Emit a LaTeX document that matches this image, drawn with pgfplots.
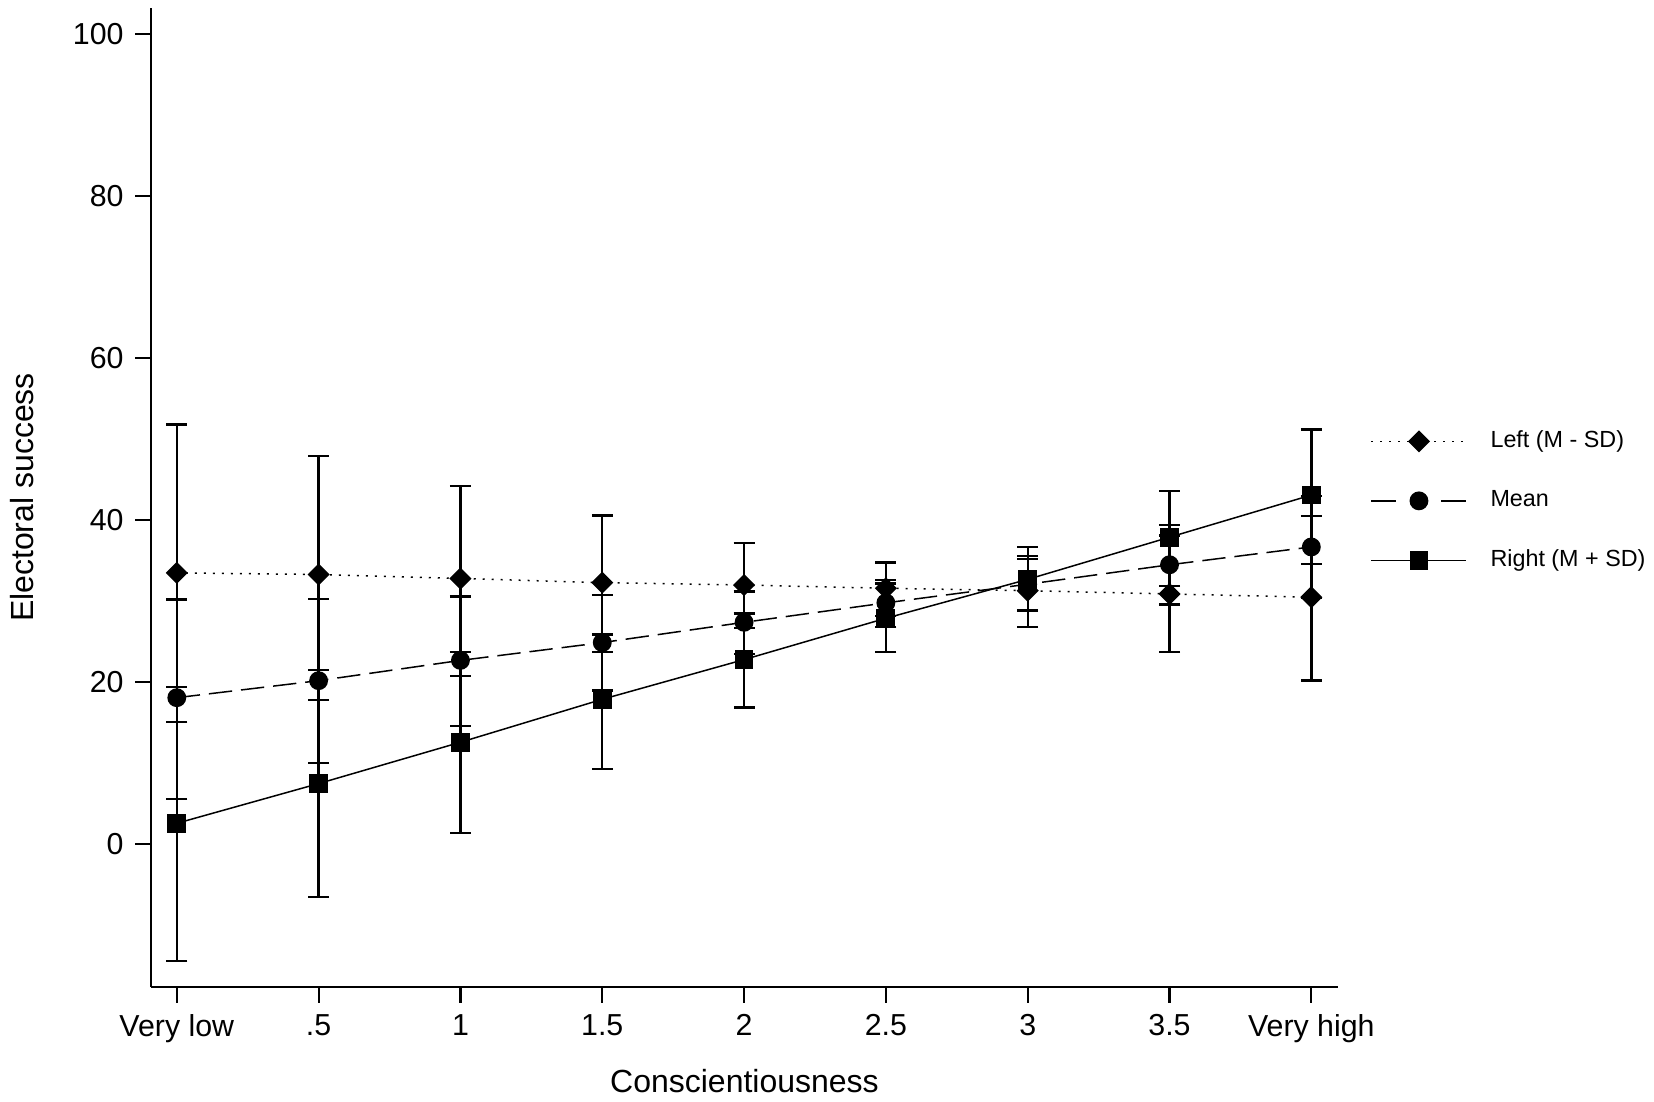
\documentclass[border=0pt]{standalone}
\usepackage{fontspec}
\setmainfont{Liberation Sans}
\usepackage{pgfplots}
\pgfplotsset{compat=1.18}
\usepackage{pgfplotstable}

\pgfplotsset{
  mylegline/.style={legend image code/.code={\draw[mark repeat=2, mark phase=2, ##1] plot coordinates {(0pt,0pt) (14.25pt,0pt) (28.5pt,0pt)};}},
  mylegdash/.style={legend image code/.code={\draw[mark repeat=2, mark phase=2, ##1, dash pattern=on 7.5pt off 13.5pt] plot coordinates {(0pt,0pt) (14.25pt,0pt) (28.5pt,0pt)};}},
}

\pgfplotstableread{
x y lo hi
0 33.5 15.1 51.8
0.5 33.3 17.8 47.9
1 32.8 20.8 44.2
1.5 32.3 23.7 40.6
2 32.0 26.7 37.2
2.5 31.6 28.2 34.8
3 31.3 26.8 35.6
3.5 30.9 23.7 38.1
4 30.5 20.2 40.5
}\leftdata

\pgfplotstableread{
x y lo hi
0 18.1 5.6 30.2
0.5 20.2 10.0 30.3
1 22.7 14.6 30.6
1.5 24.9 19.0 30.8
2 27.4 23.5 31.2
2.5 29.8 26.8 32.6
3 32.1 28.9 35.2
3.5 34.5 29.6 39.4
4 36.7 30.4 43.0
}\meandata

\pgfplotstableread{
x y lo hi
0 2.6 -14.4 19.4
0.5 7.5 -6.5 21.5
1 12.6 1.4 23.7
1.5 17.9 9.3 25.9
2 22.8 16.9 28.5
2.5 27.9 23.7 32.2
3 32.7 28.8 36.7
3.5 37.9 31.9 43.6
4 43.1 34.6 51.2
}\rightdata

\begin{document}
\begin{tikzpicture}
\useasboundingbox (-45.3pt,-34.2pt) rectangle (450.9pt,296.1pt);
\begin{axis}[
  at={(0pt,0pt)}, anchor=south west,
  scale only axis, width=356.1pt, height=293.7pt,
  xmin=-0.091, xmax=4.094, ymin=-17.6, ymax=103.2,
  axis x line=bottom, axis y line=left,
  axis line style={-, line width=0.8pt},
  tick align=outside,
  major tick length=4.7pt,
  tick style={line width=0.65pt, black},
  xtick={0,0.5,1,1.5,2,2.5,3,3.5,4},
  xticklabels={Very low,.5,1,1.5,2,2.5,3,3.5,Very high},
  ytick={0,20,40,60,80,100},
  minor tick num=0,
  /pgf/number format/assume math mode=true,
  tick label style={font=\fontsize{9.1}{11}\selectfont},
  xlabel={Conscientiousness}, ylabel={Electoral success},
  every axis x label/.style={at={(axis description cs:0.5,-0.096)}, anchor=center, font=\fontsize{9.6}{11}\selectfont},
  every axis y label/.style={at={(axis description cs:-0.1087,0.5)}, anchor=center, rotate=90, font=\fontsize{9.6}{11}\selectfont},
  legend cell align=left,
  legend style={draw=none, fill=none, inner sep=0pt, at={(axis description cs:1.027,0.576)}, anchor=north west,
    font=\fontsize{7}{8}\selectfont, row sep=7.4pt, column sep=5pt},
  clip=false,
]
\addplot[black, line width=0.45pt, dash pattern=on 0.6pt off 2.1pt,
  mark=square*, mark size=2.12pt, mark options={rotate=45, solid, fill=black},
  mylegline,
  error bars/.cd, y dir=both, y explicit,
  error bar style={line width=0.7pt, solid},
  error mark options={rotate=90, line width=0.7pt, mark size=3.15pt, solid}]
  table[x=x, y=y, y error plus expr=\thisrow{hi}-\thisrow{y}, y error minus expr=\thisrow{y}-\thisrow{lo}] {\leftdata};
\addlegendentry{Left (M - SD)}
\addplot[black, line width=0.45pt, dash pattern=on 7pt off 2.7pt,
  mark=*, mark size=2.6pt, mark options={solid, fill=black},
  mylegdash,
  error bars/.cd, y dir=both, y explicit,
  error bar style={line width=0.7pt, solid},
  error mark options={rotate=90, line width=0.7pt, mark size=3.15pt, solid}]
  table[x=x, y=y, y error plus expr=\thisrow{hi}-\thisrow{y}, y error minus expr=\thisrow{y}-\thisrow{lo}] {\meandata};
\addlegendentry{Mean}
\addplot[black, line width=0.45pt, solid,
  mark=square*, mark size=2.6pt, mark options={solid, fill=black},
  mylegline,
  error bars/.cd, y dir=both, y explicit,
  error bar style={line width=0.7pt, solid},
  error mark options={rotate=90, line width=0.7pt, mark size=3.15pt, solid}]
  table[x=x, y=y, y error plus expr=\thisrow{hi}-\thisrow{y}, y error minus expr=\thisrow{y}-\thisrow{lo}] {\rightdata};
\addlegendentry{Right (M + SD)}
\end{axis}
\end{tikzpicture}
\end{document}
